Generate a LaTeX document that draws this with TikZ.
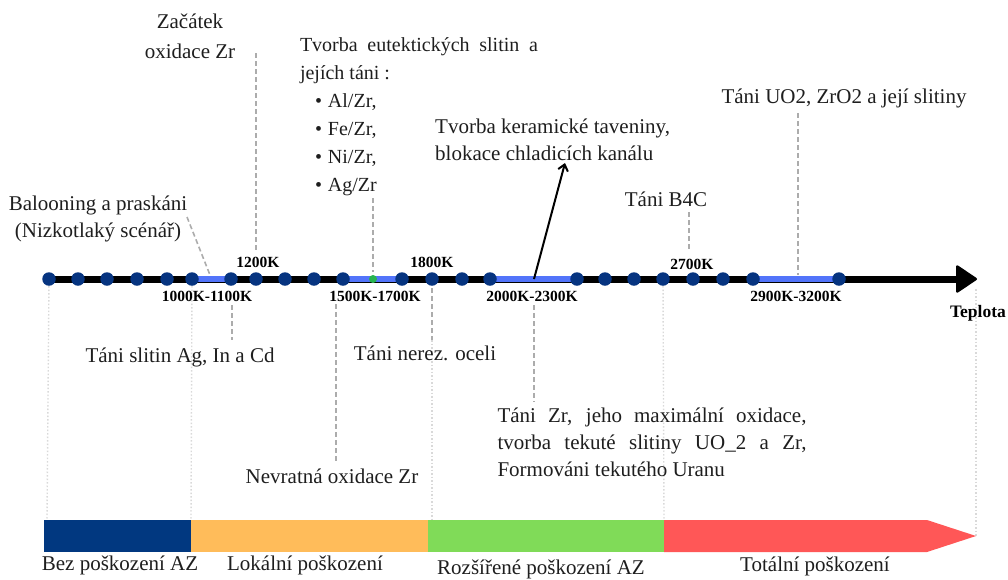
\documentclass[tikz,border=0pt]{standalone}
\usepackage{fontspec}
\setmainfont{Liberation Serif}
\usetikzlibrary{arrows.meta}
\definecolor{dotc}{RGB}{6,52,128}
\definecolor{segc}{RGB}{82,116,250}
\definecolor{greendot}{RGB}{40,180,80}
\definecolor{barblue}{RGB}{1,56,128}
\definecolor{barorange}{RGB}{255,188,90}
\definecolor{bargreen}{RGB}{128,219,88}
\definecolor{barred}{RGB}{255,87,87}
\definecolor{txt}{RGB}{30,30,30}
\begin{document}
\begin{tikzpicture}[x=1pt,y=-1pt,
  every node/.style={inner sep=0pt, text=txt},
  lbl/.style={font=\fontsize{21}{27}\selectfont},
  klbl/.style={font=\bfseries\fontsize{15.5}{18}\selectfont, text=black},
  guide/.style={draw=gray!65, line width=1.6pt, dash pattern=on 5pt off 3pt},
  faint/.style={draw=gray!30, line width=1.4pt, dash pattern=on 1.5pt off 2pt},
  dotn/.style={circle, fill=dotc, minimum size=13.5pt, inner sep=0pt},
  seg/.style={draw=segc, line width=6pt}]
\useasboundingbox (0,0) rectangle (1008,579);

% axis points
\foreach \x [count=\i] in {49,78,107,137,167,192,231,256,285,314,343,402,432,462,490,577,605,634,663,693,723,753,839}
  \coordinate (p\i) at (\x,279);
\coordinate (pg) at (373,279);
\coordinate (axend) at (977,279);

% faint vertical guides to the damage bar
\coordinate (f1) at (47,520);
\coordinate (f2) at (191,520);
\coordinate (f3a) at (432,340);
\coordinate (f3) at (432,520);
\coordinate (f4) at (664,520);
\coordinate (f5a) at (976,289);
\coordinate (f5) at (976,536);
\draw[faint] (p1) -- (f1);
\draw[faint] (p6) -- (f2);
\draw[faint] (f3a) -- (f3);
\draw[faint] (p19) -- (f4);
\draw[faint] (f5a) -- (f5);

% main axis
\draw[line width=7pt, -{Triangle[length=22pt,width=29pt,round,line width=2.5pt]}] (p1) -- (axend);
\draw[seg] (p6) -- (p7);
\draw[seg] (p11) -- (p12);
\draw[seg] (p15) -- (p16);
\draw[seg] (p22) -- (p23);
\foreach \i in {1,...,23} \node[dotn] (d\i) at (p\i) {};
\node[circle, fill=greendot, minimum size=8pt] (dg) at (pg) {};

% temperature labels
\node[klbl] (k1200) at (258,262) {1200K};
\node[klbl] (k1000) at (207,296) {1000K-1100K};
\node[klbl] (k1500) at (375,296) {1500K-1700K};
\node[klbl] (k1800) at (432,262) {1800K};
\node[klbl] (k2000) at (532,296) {2000K-2300K};
\node[klbl] (k2700) at (692,264) {2700K};
\node[klbl] (k2900) at (796,296) {2900K-3200K};
\node[font=\bfseries\fontsize{17.5}{20}\selectfont, text=black] (tep) at (978,313) {Teplota};

% upper texts
\node[font=\fontsize{21}{30}\selectfont, align=center] (zac) at (190,36) {Začátek\\oxidace Zr};
\node[lbl, align=center] (bal) at (98,219) {Balooning a praskáni\\(Nizkotlaký scénář)};
\node[font=\fontsize{20}{28}\selectfont, text width=238pt, align=justify] (eut) at (419,117)
  {Tvorba eutektických slitin a\linebreak jejích táni :\\
   \hspace*{15pt}\textbullet\hspace{6pt}Al/Zr,\\
   \hspace*{15pt}\textbullet\hspace{6pt}Fe/Zr,\\
   \hspace*{15pt}\textbullet\hspace{6pt}Ni/Zr,\\
   \hspace*{15pt}\textbullet\hspace{6pt}Ag/Zr};
\node[lbl, align=left, anchor=west] (ker) at (435,140) {Tvorba keramické taveniny,\\blokace chladicích kanálu};
\node[lbl] (uo2) at (844,98) {Táni UO2, ZrO2 a její slitiny};
\node[lbl] (b4c) at (666,199) {Táni B4C};

% lower texts
\node[lbl] (agin) at (180,357) {Táni slitin Ag, In a Cd};
\node[lbl] (nerez) at (425,353) {Táni nerez. oceli};
\node[lbl] (nevr) at (332,476) {Nevratná oxidace Zr};
\node[font=\fontsize{21}{27}\selectfont, text width=309pt, align=justify] (zrmax) at (652,442)
  {Táni Zr, jeho maximální oxidace,\linebreak tvorba tekuté slitiny UO\_2 a Zr,\linebreak Formováni tekutého Uranu};

% dashed leaders
\coordinate (zacA) at (256,53);   \coordinate (zacB) at (256,250);
\coordinate (balA) at (187,217);  \coordinate (balB) at (210,275);
\coordinate (eutA) at (373,198);  \coordinate (eutB) at (373,272);
\coordinate (uoA) at (798,113);   \coordinate (uoB) at (798,275);
\coordinate (b4A) at (689,212);   \coordinate (b4B) at (689,250);
\coordinate (agA) at (232,305);   \coordinate (agB) at (232,340);
\coordinate (nvA) at (336,304);   \coordinate (nvB) at (336,463);
\coordinate (nzA) at (432,288);
\coordinate (zrA) at (534,305);   \coordinate (zrB) at (534,402);
\draw[guide] (zacA) -- (zacB);
\draw[guide] (balA) -- (balB);
\draw[guide] (eutA) -- (eutB);
\draw[guide] (uoA) -- (uoB);
\draw[guide] (b4A) -- (b4B);
\draw[guide] (agA) -- (agB);
\draw[guide] (nvA) -- (nvB);
\draw[guide] (nzA) -- (f3a);
\draw[guide] (zrA) -- (zrB);

% arrow to ceramic melt
\coordinate (kerS) at (534,279);
\coordinate (kerT) at (565,163);
\draw[line width=2pt, -{Straight Barb[length=6pt,width=10pt]}] (kerS) -- (kerT);

% damage bar
\fill[barblue] (44,520) rectangle (191,552);
\fill[barorange] (191,520) rectangle (428,552);
\fill[bargreen] (428,520) rectangle (664,552);
\fill[barred] (664,520) -- (927,520) -- (976,536) -- (927,552) -- (664,552) -- cycle;
\node[lbl] (z1) at (120,565) {Bez poškození AZ};
\node[lbl] (z2) at (305,565) {Lokální poškození};
\node[lbl] (z3) at (541,569) {Rozšířené poškození AZ};
\node[lbl] (z4) at (815,566) {Totální poškození};
\end{tikzpicture}
\end{document}
